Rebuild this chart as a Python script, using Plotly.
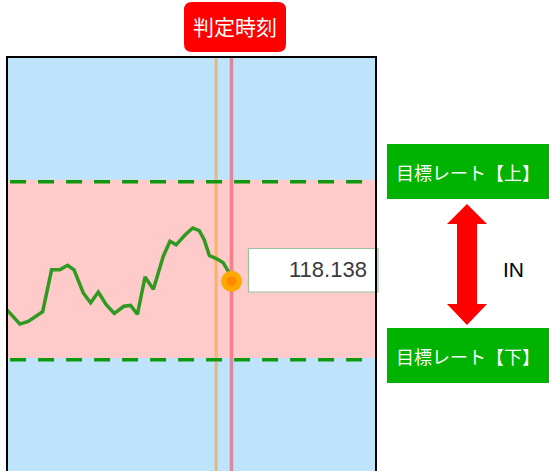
import plotly.graph_objects as go

# ---- data ----
time_s = [0.0, 4.2, 6.9, 11.6, 14.5, 17.2, 19.7, 21.8, 24.8, 27.2, 29.7, 32.2, 34.9,
          38.0, 40.2, 42.4, 44.9, 47.6, 50.8, 53.0, 55.0, 57.9, 60.4, 62.5, 64.1,
          65.8, 68.4, 70.3, 72.5, 73.0]
rate = [118.106, 118.090, 118.093, 118.104, 118.151, 118.151, 118.156, 118.151,
        118.125, 118.114, 118.126, 118.112, 118.102, 118.110, 118.111, 118.101,
        118.143, 118.129, 118.166, 118.183, 118.179, 118.190, 118.198, 118.195,
        118.185, 118.167, 118.163, 118.159, 118.146, 118.138]
target_upper = 118.250
target_lower = 118.050
band_top = 118.252
band_bottom = 118.052
judge_time = 73.0
pre_time = 68.0
current_rate = rate[-1]

label_judge = "判定時刻"
label_upper = "目標レート【上】"
label_lower = "目標レート【下】"
label_in = "IN"

# ---- layout helpers (pixel -> paper) ----
W, H = 549, 471
def X(px):
    return px / W
def Y(py):
    return 1 - py / H

def rounded_rect(x0, y0, x1, y1, r):
    rx, ry = r / W, r / H
    a0, b0, a1, b1 = X(x0), Y(y1), X(x1), Y(y0)
    return (f"M{a0+rx},{b1} L{a1-rx},{b1} Q{a1},{b1} {a1},{b1-ry} "
            f"L{a1},{b0+ry} Q{a1},{b0} {a1-rx},{b0} L{a0+rx},{b0} "
            f"Q{a0},{b0} {a0},{b0+ry} L{a0},{b1-ry} Q{a0},{b1} {a0+rx},{b1} Z")

def arrow_path(cx, top, head_end_top, head_start_bot, bot, hw, sw):
    pts = [(cx, top), (cx + hw, head_end_top), (cx + sw, head_end_top),
           (cx + sw, head_start_bot), (cx + hw, head_start_bot), (cx, bot),
           (cx - hw, head_start_bot), (cx - sw, head_start_bot),
           (cx - sw, head_end_top), (cx - hw, head_end_top)]
    return "M" + " L".join(f"{X(a)},{Y(b)}" for a, b in pts) + " Z"

fig = go.Figure()

fig.add_trace(go.Scatter(x=time_s, y=rate, mode="lines",
                         line=dict(color="#2F9A1F", width=3.5), hoverinfo="skip"))
fig.add_trace(go.Scatter(x=[time_s[-1]], y=[rate[-1]], mode="markers",
                         marker=dict(color="#FFA800", size=21), hoverinfo="skip"))
fig.add_trace(go.Scatter(x=[time_s[-1]], y=[rate[-1]], mode="markers",
                         marker=dict(color="#FF8A00", size=10), hoverinfo="skip"))

shapes = []
shapes.append(dict(type="rect", xref="paper", yref="y", x0=X(7), x1=X(376),
                   y0=band_bottom, y1=band_top, fillcolor="#FFCACA",
                   line=dict(width=0), layer="below"))
for v in (target_upper, target_lower):
    shapes.append(dict(type="line", xref="x", yref="y", x0=1, x1=116, y0=v, y1=v,
                       line=dict(color="#0E990E", width=3.5, dash="16px,12px"),
                       layer="below"))
shapes.append(dict(type="line", xref="x", yref="paper", x0=pre_time, x1=pre_time,
                   y0=0, y1=Y(57), line=dict(color="rgba(250,160,40,0.6)", width=3),
                   layer="below"))
shapes.append(dict(type="line", xref="x", yref="paper", x0=judge_time, x1=judge_time,
                   y0=0, y1=Y(57), line=dict(color="rgba(240,60,90,0.55)", width=3.5),
                   layer="below"))
shapes.append(dict(type="rect", xref="paper", yref="paper", x0=X(248.5), x1=X(378),
                   y0=Y(292), y1=Y(248.5), fillcolor="white",
                   line=dict(color="#9CC09C", width=1.2), layer="above"))
shapes.append(dict(type="rect", xref="paper", yref="paper", x0=X(7), x1=X(376),
                   y0=Y(480), y1=Y(57), line=dict(color="black", width=2),
                   fillcolor="rgba(0,0,0,0)", layer="above"))
shapes.append(dict(type="path", xref="paper", yref="paper",
                   path=rounded_rect(184, 2, 286, 52, 8), fillcolor="#FF0000",
                   line=dict(width=0)))
shapes.append(dict(type="rect", xref="paper", yref="paper", x0=X(387), x1=X(549),
                   y0=Y(199), y1=Y(144), fillcolor="#00B300", line=dict(width=0)))
shapes.append(dict(type="rect", xref="paper", yref="paper", x0=X(387), x1=X(549),
                   y0=Y(383), y1=Y(328), fillcolor="#00B300", line=dict(width=0)))
shapes.append(dict(type="path", xref="paper", yref="paper",
                   path=arrow_path(467, 204, 224, 304, 325, 20, 10),
                   fillcolor="#FF0000", line=dict(width=0)))

jp = "Noto Sans CJK JP"
def ann(px, py, text, font, xanchor="center"):
    return dict(x=X(px), y=Y(py), xref="paper", yref="paper", text=text,
                xanchor=xanchor, yanchor="middle", showarrow=False, font=font)

annotations = [
    ann(235, 26, label_judge, dict(family=jp, size=21, color="white")),
    ann(468, 172, label_upper, dict(family=jp, size=18, color="white")),
    ann(468, 356, label_lower, dict(family=jp, size=18, color="white")),
    ann(513, 269, label_in, dict(family="Liberation Sans", size=21, color="black")),
    ann(369, 269, f"{current_rate:.3f}",
        dict(family="Liberation Sans", size=22, color="#3A3A3A"), xanchor="right"),
]

fig.update_layout(
    width=W, height=H, autosize=False,
    margin=dict(l=0, r=0, t=0, b=0),
    paper_bgcolor="white", plot_bgcolor="#BDE4FB",
    showlegend=False,
    xaxis=dict(domain=[X(7), X(376)], range=[0, 120], visible=False, fixedrange=True),
    yaxis=dict(domain=[0, Y(57)], range=[117.925, 118.390], visible=False, fixedrange=True),
    shapes=shapes, annotations=annotations,
)

fig.write_html("out.html", config={"displayModeBar": False},
               post_script="document.body.style.margin='0';")
